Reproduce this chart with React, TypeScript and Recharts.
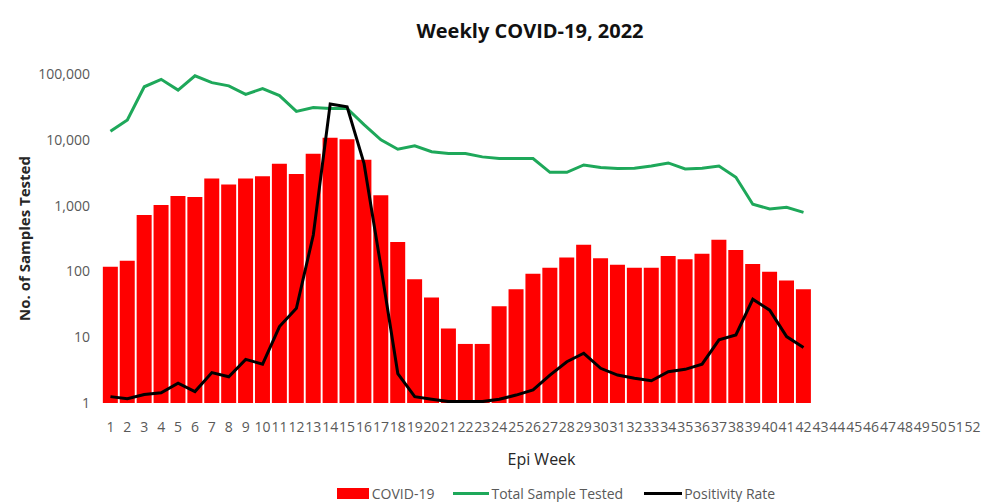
import React from 'react';
import {
  ComposedChart, Bar, Line, XAxis, YAxis,
} from 'recharts';

const weeks = Array.from({ length: 52 }, (_, i) => String(i + 1));

// COVID-19 positive samples, weeks 1-42
const covidCases = [
  118, 145, 720, 1025, 1400, 1350, 2580, 2090, 2580, 2790,
  4340, 3020, 6150, 10700, 10200, 4990, 1440, 280, 76, 40,
  13.6, 7.9, 7.9, 29.5, 53.5, 92, 114, 163, 255, 158,
  126, 114, 114, 171, 153, 186, 303, 211, 129, 99,
  73, 53.5,
];

// Total samples tested, weeks 1-42
const totalTested = [
  13500, 20000, 64000, 83000, 57000, 94000, 74000, 66000, 49000, 60000,
  47000, 27000, 31000, 30000, 30000, 17000, 10000, 7200, 8100, 6600,
  6200, 6200, 5500, 5200, 5200, 5200, 3200, 3200, 4150, 3800,
  3650, 3700, 4000, 4450, 3600, 3700, 4000, 2700, 1050, 890,
  940, 790,
];

// Positivity rate, weeks 1-42 (plotted on the same log axis)
const positivity = [
  1.25, 1.16, 1.35, 1.43, 2.0, 1.49, 2.9, 2.5, 4.6, 3.9,
  14.5, 27.5, 357, 35000, 31800, 4380, 118, 2.8, 1.25, 1.14,
  1.05, 1.05, 1.05, 1.14, 1.32, 1.58, 2.66, 4.24, 5.7, 3.37,
  2.66, 2.37, 2.18, 2.99, 3.25, 3.9, 9.1, 10.8, 37.7, 25.8,
  10.2, 7.0,
];

const yTicks = [1, 10, 100, 1000, 10000, 100000];

const data = weeks.map((w, i) => ({
  week: w,
  covid: covidCases[i] ?? null,
  total: totalTested[i] ?? null,
  rate: positivity[i] ?? null,
}));

const FONT = "'Open Sans', sans-serif";
const GREEN = '#1ea85a';

export default function App() {
  return (
    <div style={{ position: 'absolute', left: 0, top: 0, width: 987, height: 502, overflow: 'hidden', background: '#fff', fontFamily: FONT }}>
      <div style={{ position: 'absolute', top: 17, left: 0, width: 1060, textAlign: 'center', fontSize: 20, fontWeight: 700, color: '#111' }}>
        Weekly COVID-19, 2022
      </div>
      <ComposedChart
        width={987}
        height={502}
        data={data}
        margin={{ top: 74, right: 6, bottom: 69, left: 12 }}
        barCategoryGap="5%"
      >
        <XAxis
          dataKey="week"
          interval={0}
          axisLine={false}
          tickLine={false}
          height={30}
          tickMargin={13}
          tick={{ fontSize: 14, fill: '#595959', fontFamily: FONT }}
          label={{ value: 'Epi Week', position: 'bottom', offset: 21, fontSize: 16, fill: '#262626', fontFamily: FONT }}
        />
        <YAxis
          scale="log"
          domain={[1, 100000]}
          ticks={yTicks}
          allowDataOverflow
          width={90}
          axisLine={false}
          tickLine={false}
          tickMargin={6}
          tickFormatter={(v: number) => v.toLocaleString('en-US')}
          tick={{ fontSize: 14, fill: '#595959', fontFamily: FONT }}
          label={{ value: 'No. of Samples Tested', angle: -90, position: 'insideLeft', offset: 13, fontSize: 15, fontWeight: 700, fill: '#262626', fontFamily: FONT, style: { textAnchor: 'middle' } }}
        />
        <Bar dataKey="covid" fill="#ff0000" isAnimationActive={false} />
        <Line dataKey="total" stroke={GREEN} strokeWidth={3} dot={false} isAnimationActive={false} />
        <Line dataKey="rate" stroke="#000" strokeWidth={3} dot={false} isAnimationActive={false} />
      </ComposedChart>
      <div style={{ position: 'absolute', top: 484, left: 119, width: 874, display: 'flex', justifyContent: 'center', alignItems: 'center', fontSize: 14, color: '#595959' }}>
        <span style={{ display: 'inline-block', width: 32, height: 11, background: '#ff0000', marginRight: 3 }} />
        <span style={{ marginRight: 19 }}>COVID-19</span>
        <span style={{ display: 'inline-block', width: 36, height: 3, background: GREEN, marginRight: 2 }} />
        <span style={{ marginRight: 21 }}>Total Sample Tested</span>
        <span style={{ display: 'inline-block', width: 38, height: 3, background: '#000', marginRight: 2 }} />
        <span>Positivity Rate</span>
      </div>
    </div>
  );
}
